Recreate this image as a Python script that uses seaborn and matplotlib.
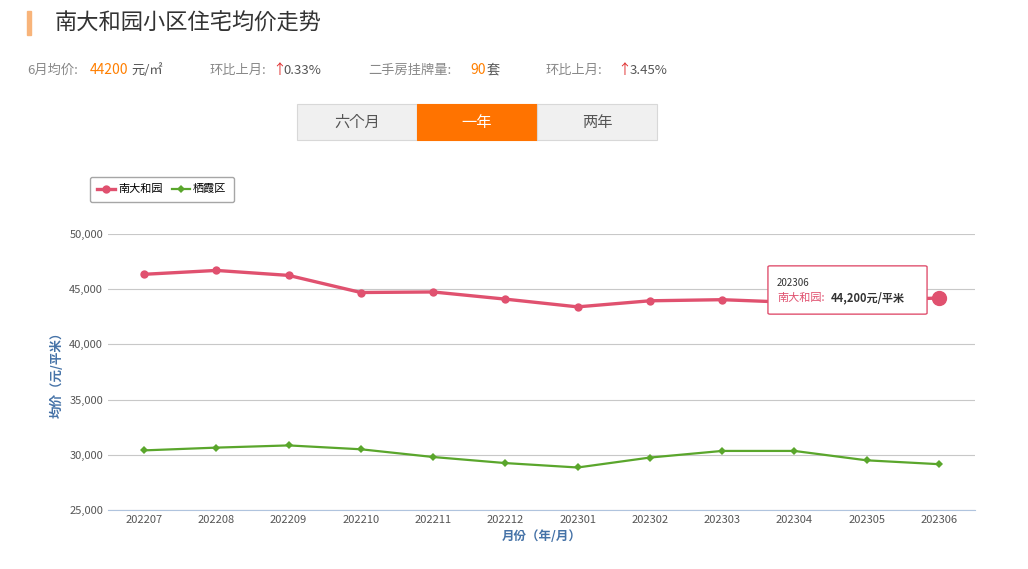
import matplotlib
matplotlib.use("Agg")
import matplotlib.pyplot as plt
from matplotlib.patches import Rectangle, FancyBboxPatch
import seaborn as sns
import pandas as pd

plt.rcParams["font.family"] = "sans-serif"
plt.rcParams["font.sans-serif"] = ["Noto Sans CJK SC", "Noto Sans CJK JP", "Noto Sans CJK TC",
                                   "Noto Sans CJK KR", "DejaVu Sans"]

months = ["202207","202208","202209","202210","202211","202212","202301","202302","202303","202304","202305","202306"]
nanda = [46350,46700,46250,44700,44750,44100,43400,43950,44050,43800,44000,44200]
qixia = [30400,30650,30850,30500,29800,29250,28850,29750,30350,30350,29500,29150]
series_names = ["南大和园","栖霞区"]
yticks = [25000,30000,35000,40000,45000,50000]

df = pd.DataFrame({"month": months*2, "price": nanda+qixia,
                   "series": [series_names[0]]*12+[series_names[1]]*12})
df["x"] = list(range(12))*2

W, H = 1028, 569
fig = plt.figure(figsize=(W/100, H/100), dpi=100)
ax = fig.add_axes([108/W, 1-510/H, (975-108)/W, (510-234)/H])
pal = {"南大和园": "#e0516f", "栖霞区": "#5aa62c"}
for name, mk, ms, lw in [("南大和园","o",6,2.4),("栖霞区","D",4,1.6)]:
    sub = df[df.series == name]
    sns.lineplot(data=sub, x="x", y="price", ax=ax, color=pal[name], marker=mk,
                 markersize=ms, markeredgewidth=0, linewidth=lw, label=name, legend=False)
ax.plot([11],[nanda[-1]],"o",color=pal["南大和园"],markersize=10,zorder=5)
ax.set_xlim(-0.5, 11.5)
ax.set_ylim(25000, 50000)
ax.set_yticks(yticks)
ax.set_yticklabels([f"{v:,}" for v in yticks], fontsize=8, color="#555555")
ax.set_xticks(range(12))
ax.set_xticklabels(months, fontsize=8, color="#555555")
ax.grid(axis="y", color="#c8c8c8", linewidth=0.8)
ax.set_axisbelow(True)
for s in ["top","right","left"]:
    ax.spines[s].set_visible(False)
ax.spines["bottom"].set_color("#b0c4de")
ax.tick_params(axis="y", length=0)
ax.tick_params(axis="x", length=0)
ax.set_xlabel("月份（年/月）", fontsize=9, color="#4572a7", fontweight="bold")
ax.set_ylabel("均价（元/平米）", fontsize=9, color="#4572a7", fontweight="bold")

leg = ax.legend(loc="upper left", bbox_to_anchor=(-0.025, 1.22), fontsize=8,
                frameon=True, ncol=2, handlelength=1.6, columnspacing=0.8,
                borderpad=0.5, handletextpad=0.3)
leg.get_frame().set_edgecolor("#909090")
leg.get_frame().set_boxstyle("round", pad=0.2)

tip = FancyBboxPatch((770/W, 1-313/H), 155/W, 46/H, boxstyle="round,pad=0.002",
                     transform=fig.transFigure, facecolor="white", edgecolor="#e0516f", linewidth=1, zorder=10)
fig.patches.append(tip)
fig.text(777/W, 1-283/H, "202306", fontsize=7, color="#333333", va="center", zorder=11)
fig.text(777/W, 1-298/H, "南大和园:", fontsize=8, color="#e0516f", va="center", zorder=11)
fig.text(831/W, 1-298/H, "44,200元/平米", fontsize=8, color="#333333", va="center", fontweight="bold", zorder=11)

fig.patches.append(Rectangle((27/W, 1-35/H), 4/W, 24/H, transform=fig.transFigure, color="#f8b47a"))
fig.text(55/W, 1-23/H, "南大和园小区住宅均价走势", fontsize=16, color="#333333", va="center")
y2 = 1-70/H
fig.text(27/W, y2, "6月均价:", fontsize=9.5, color="#888888", va="center")
fig.text(90/W, y2, "44200", fontsize=10, color="#ff7f00", va="center")
fig.text(131/W, y2, "元/㎡", fontsize=9.5, color="#555555", va="center")
fig.text(210/W, y2, "环比上月:", fontsize=9.5, color="#888888", va="center")
fig.text(272/W, y2, "↑", fontsize=10, color="#e03030", va="center")
fig.text(283/W, y2, "0.33%", fontsize=9.5, color="#555555", va="center")
fig.text(368/W, y2, "二手房挂牌量:", fontsize=9.5, color="#888888", va="center")
fig.text(470/W, y2, "90", fontsize=10, color="#ff7f00", va="center")
fig.text(487/W, y2, "套", fontsize=9.5, color="#555555", va="center")
fig.text(546/W, y2, "环比上月:", fontsize=9.5, color="#888888", va="center")
fig.text(617/W, y2, "↑", fontsize=10, color="#e03030", va="center")
fig.text(630/W, y2, "3.45%", fontsize=9.5, color="#555555", va="center")
for i, (lab, active) in enumerate([("六个月",False),("一年",True),("两年",False)]):
    x0 = 297 + i*120
    fig.patches.append(Rectangle((x0/W, 1-140/H), 120/W, 36/H, transform=fig.transFigure,
                                 facecolor="#ff7300" if active else "#f0f0f0",
                                 edgecolor="#ff7300" if active else "#d8d8d8", linewidth=0.8))
    fig.text((x0+60)/W, 1-122/H, lab, fontsize=11, ha="center", va="center",
             color="white" if active else "#555555")

fig.savefig("out.png", dpi=100, facecolor="white")
